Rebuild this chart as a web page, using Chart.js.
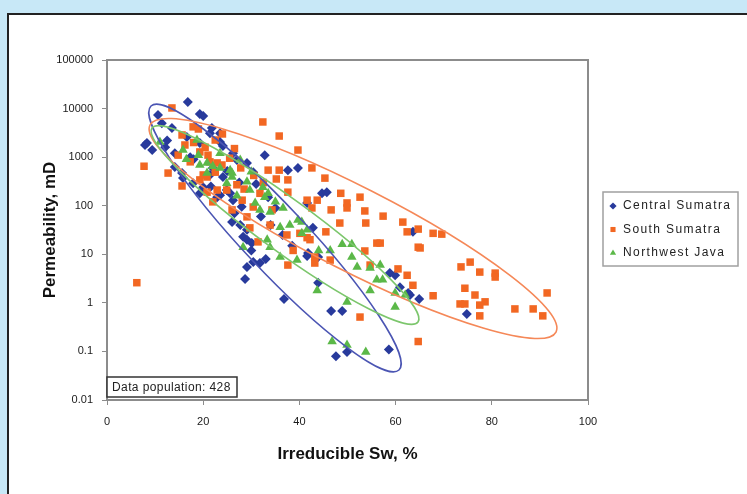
<!DOCTYPE html>
<html>
<head>
<meta charset="utf-8">
<title>Permeability vs irreducible Sw</title>
<script src="https://cdn.jsdelivr.net/npm/chart.js@4"></script>
<style>
  html, body { margin: 0; padding: 0; }
  body { width: 747px; height: 494px; background: #c8e8f7; overflow: hidden; position: relative; }
  .panel {
    position: absolute; left: 7px; top: 13px; width: 760px; height: 500px;
    background: #fff; border-top: 2px solid #222; border-left: 2px solid #222;
  }
  #chart { position: absolute; left: 0; top: 0; }
</style>
</head>
<body>
<div class="panel"><canvas id="chart" width="738" height="479"></canvas></div>
<script>
// Irreducible water saturation (%) vs permeability (mD), by basin

const seriesNames = ['Central Sumatra', 'South Sumatra', 'Northwest Java'];

const centralSw = [
  16.8, 10.6, 19.3, 20.0, 11.4, 13.5, 8.3, 7.9, 9.4, 12.1, 14.1, 16.6, 21.8, 23.5, 14.1, 15.6,
  17.3, 19.3, 15.8, 17.9, 21.4, 19.3, 22.9, 24.9, 32.8, 37.6, 39.7, 44.7, 23.5, 24.1, 26.2, 27.0,
  29.1, 30.4, 20.0, 21.6, 23.5, 25.6, 26.2, 24.1, 26.0, 27.7, 29.1, 28.3, 29.1, 30.1, 30.4, 31.8,
  29.1, 41.8, 43.9, 45.7, 21.4, 41.6, 42.8, 41.6, 43.9, 58.8, 59.9, 60.9, 63.0, 64.9, 46.6, 48.9,
  58.6, 28.7, 36.8, 47.6, 49.9, 62.6, 74.8, 63.6, 12.5, 18.0, 22.0, 25.0, 27.5, 31.0, 33.5, 35.0,
  28.0, 32.0, 26.5, 34.0, 36.5, 38.5, 30.0, 33.0
];
const centralPerm = [
  13600, 7400, 7700, 7000, 5000, 4000, 1950, 1780, 1400, 1600, 1200, 2600, 4000, 2050, 630, 470,
  1000, 1950, 370, 290, 430, 180, 150, 210, 1100, 540, 600, 180, 3100, 1700, 1200, 870,
  760, 490, 240, 250, 165, 180, 130, 390, 46, 40, 32, 23, 20, 17, 6.9, 6.6,
  5.5, 10.6, 8.8, 190, 3100, 114, 35, 9.2, 2.6, 4.1, 3.7, 2.1, 1.45, 1.2, 0.68, 0.68,
  0.11, 3.1, 1.2, 0.08, 0.097, 1.6, 0.59, 29, 2200, 900, 600, 520, 300, 280, 150, 90,
  95, 60, 70, 40, 25, 15, 12, 8
];

const southSw = [
  6.2, 7.7, 12.7, 15.6, 13.5, 17.9, 19.0, 15.6, 16.2, 14.8, 19.3, 22.5, 17.3, 21.4, 20.8, 19.3,
  23.9, 22.9, 20.8, 32.4, 35.8, 39.7, 33.5, 35.8, 37.6, 42.6, 45.3, 37.6, 41.6, 43.7, 42.6, 31.8,
  30.4, 29.1, 34.3, 33.9, 37.4, 40.1, 41.6, 38.7, 37.6, 43.2, 20.4, 21.0, 22.9, 22.5, 20.0, 24.9,
  27.0, 22.0, 28.1, 26.0, 29.7, 31.4, 48.6, 52.6, 49.9, 49.9, 46.6, 53.6, 57.4, 61.5, 48.4, 53.8,
  62.4, 64.7, 45.5, 56.1, 56.8, 64.7, 53.6, 42.2, 43.2, 46.4, 54.7, 60.5, 62.4, 63.6, 52.6, 64.7,
  35.2, 67.8, 69.6, 65.1, 73.6, 75.5, 77.5, 80.7, 80.7, 74.4, 67.8, 76.5, 73.4, 74.4, 77.5, 78.6,
  77.5, 84.8, 88.6, 90.6, 91.5, 25.5, 27.8, 30.5, 26.5, 24.0, 28.5, 32.5, 18.0
];
const southPerm = [
  2.6, 650, 470, 255, 10300, 4200, 3800, 2860, 1780, 1100, 1280, 2250, 800, 800, 390, 340,
  690, 210, 190, 5300, 2720, 1400, 540, 540, 340, 600, 370, 190, 130, 130, 90, 180,
  94, 59, 82, 40, 25, 27, 22, 12, 6, 6.6, 1600, 1100, 760, 490, 430, 210,
  270, 120, 130, 82, 35, 18, 180, 150, 114, 90, 82, 78, 61, 46, 44, 44,
  29, 33, 29, 17, 17, 14, 11.7, 20, 8.8, 7.6, 6, 5, 3.7, 2.3, 0.51, 0.16,
  355, 27, 26, 13.5, 5.5, 6.9, 4.3, 4.1, 3.4, 2.0, 1.4, 1.45, 0.95, 0.95, 0.9, 1.05,
  0.54, 0.75, 0.75, 0.54, 1.6, 950, 600, 420, 1500, 3000, 220, 300, 2000
];

const javaSw = [
  18.7, 11.0, 20.8, 19.3, 23.5, 22.0, 24.9, 20.8, 26.0, 29.1, 32.4, 33.5, 31.8, 33.9, 36.6, 36.0,
  39.7, 40.5, 33.3, 28.3, 33.9, 39.5, 36.0, 32.8, 29.7, 23.5, 40.5, 41.6, 48.9, 50.9, 46.4, 50.9,
  52.0, 54.7, 56.8, 56.1, 57.3, 54.7, 59.9, 62.0, 43.7, 49.9, 59.9, 46.8, 49.9, 53.8, 15.8, 26.0,
  25.6, 27.7, 30.8, 16.5, 19.0, 27.0, 30.0, 35.0, 38.0, 44.0
];
const javaPerm = [
  2250, 2050, 470, 690, 1200, 650, 290, 760, 470, 310, 240, 180, 82, 74, 90, 36,
  51, 27, 20, 14, 14, 7.6, 8.8, 150, 210, 600, 46, 32, 16, 16, 12, 8.8,
  5.5, 5.2, 6, 3.0, 3.0, 1.8, 1.6, 1.45, 1.8, 1.04, 0.82, 0.16, 0.135, 0.097, 1400, 390,
  540, 870, 114, 900, 1100, 160, 500, 120, 40, 12
];

// Envelope ellipses: both ends of the long axis, then one end of the short axis
const centralEnvelope = [[9.15, 11300], [60.7, 0.0414], [30.1, 7.7]];
const southEnvelope = [[8.94, 4590], [93.35, 0.251], [47.2, 5.8]];
const javaEnvelope = [[9.36, 3980], [64.66, 0.404], [33.8, 14.8]];

const swTicks = [0, 20, 40, 60, 80, 100];
const permTicks = [0.01, 0.1, 1, 10, 100, 1000, 10000, 100000];
const populationNote = 'Data population: 428';

const colors = {
  central: '#283a9c',
  south: '#f26722',
  java: '#5bb848',
  centralLine: '#4b55b3',
  southLine: '#f58858',
  javaLine: '#7cc66c',
  frame: '#8c8c8c',
};

const FONT = 'Arial, "Liberation Sans", sans-serif';

function toPoints(xs, ys) {
  return xs.map((x, i) => ({ x, y: ys[i] }));
}

// Draw each envelope as a true ellipse in pixel space (log y is linear there)
const envelopePlugin = {
  id: 'envelopes',
  afterDatasetsDraw(chart) {
    const { ctx, chartArea, scales: { x, y } } = chart;
    const items = [
      [centralEnvelope, colors.centralLine],
      [southEnvelope, colors.southLine],
      [javaEnvelope, colors.javaLine],
    ];
    ctx.save();
    ctx.beginPath();
    ctx.rect(chartArea.left, chartArea.top, chartArea.width, chartArea.height);
    ctx.clip();
    for (const [pts, color] of items) {
      const p = pts.map(([vx, vy]) => [x.getPixelForValue(vx), y.getPixelForValue(vy)]);
      const cx = (p[0][0] + p[1][0]) / 2;
      const cy = (p[0][1] + p[1][1]) / 2;
      const a = Math.hypot(p[1][0] - p[0][0], p[1][1] - p[0][1]) / 2;
      const b = Math.hypot(p[2][0] - cx, p[2][1] - cy);
      const ang = Math.atan2(p[1][1] - p[0][1], p[1][0] - p[0][0]);
      ctx.beginPath();
      ctx.ellipse(cx, cy, a, b, ang, 0, Math.PI * 2);
      ctx.strokeStyle = color;
      ctx.lineWidth = 1.6;
      ctx.stroke();
    }
    ctx.restore();
  },
};

// Plot frame (top/right), population note and the boxed legend
const decorPlugin = {
  id: 'decor',
  afterDraw(chart) {
    const { ctx, chartArea: ca } = chart;
    ctx.save();
    ctx.strokeStyle = colors.frame;
    ctx.lineWidth = 2;
    ctx.beginPath();
    ctx.moveTo(ca.left, ca.top);
    ctx.lineTo(ca.right, ca.top);
    ctx.lineTo(ca.right, ca.bottom);
    ctx.stroke();

    // population note, bottom-left of the plot
    ctx.fillStyle = '#fff';
    ctx.fillRect(ca.left, ca.bottom - 23, 130, 20);
    ctx.strokeStyle = '#333';
    ctx.lineWidth = 1.5;
    ctx.strokeRect(ca.left, ca.bottom - 23, 130, 20);
    ctx.fillStyle = '#222';
    ctx.font = '12px ' + FONT;
    ctx.letterSpacing = '0.4px';
    ctx.textBaseline = 'middle';
    ctx.fillText(populationNote, ca.left + 5, ca.bottom - 12.5);

    // legend
    const lx = ca.right + 15;
    const ly = (ca.top + ca.bottom) / 2 - 38;
    ctx.strokeStyle = '#a0a0a0';
    ctx.lineWidth = 1.5;
    ctx.strokeRect(lx, ly, 135, 74);
    ctx.letterSpacing = '1.4px';
    chart.data.datasets.slice(0, 3).forEach((ds, i) => {
      const rowY = ly + 14 + i * 23.5;
      ctx.fillStyle = ds.backgroundColor;
      Chart.helpers.drawPoint(ctx, {
        pointStyle: ds.pointStyle, radius: 3.6, rotation: 0, borderWidth: 0,
      }, lx + 10, rowY);
      ctx.fillStyle = '#222';
      ctx.font = '12px ' + FONT;
      ctx.fillText(ds.label, lx + 20, rowY);
    });
    ctx.restore();
  },
};

const tickFont = { family: FONT, size: 11 };
const titleFont = { family: FONT, size: 17, weight: 'bold' };

new Chart(document.getElementById('chart'), {
  type: 'scatter',
  data: {
    datasets: [
      {
        label: seriesNames[0], data: toPoints(centralSw, centralPerm), order: 3,
        pointStyle: 'rectRot', pointRadius: 5, borderWidth: 0,
        backgroundColor: colors.central, borderColor: colors.central,
      },
      {
        label: seriesNames[1], data: toPoints(southSw, southPerm), order: 2,
        pointStyle: 'rect', pointRadius: 5.3, borderWidth: 0,
        backgroundColor: colors.south, borderColor: colors.south,
      },
      {
        label: seriesNames[2], data: toPoints(javaSw, javaPerm), order: 1,
        pointStyle: 'triangle', pointRadius: 5.5, borderWidth: 0,
        backgroundColor: colors.java, borderColor: colors.java,
      },
    ],
  },
  options: {
    responsive: false,
    animation: false,
    layout: { padding: { left: 0, top: 45, right: 159, bottom: 24 } },
    plugins: { legend: { display: false }, tooltip: { enabled: false } },
    scales: {
      x: {
        type: 'linear', min: 0, max: 100,
        afterBuildTicks: s => { s.ticks = swTicks.map(v => ({ value: v })); },
        afterFit: s => { s.height = 70; },
        ticks: { padding: 10, color: '#1a1a1a', font: tickFont },
        grid: { drawOnChartArea: false, tickLength: 5, color: colors.frame },
        border: { color: colors.frame, width: 2 },
        title: {
          display: true, text: 'Irreducible Sw, %', color: '#111',
          font: titleFont, padding: { top: 0, bottom: 5 },
        },
      },
      y: {
        type: 'logarithmic', min: 0.01, max: 100000,
        afterBuildTicks: s => { s.ticks = permTicks.map(v => ({ value: v })); },
        afterFit: s => { s.width = 98; },
        ticks: { padding: 9, color: '#1a1a1a', font: tickFont, callback: v => String(v) },
        grid: { drawOnChartArea: false, tickLength: 5, color: colors.frame },
        border: { color: colors.frame, width: 2 },
        title: {
          display: true, text: 'Permeability, mD', color: '#111',
          font: titleFont, padding: { top: 31, bottom: 0 },
        },
      },
    },
  },
  plugins: [envelopePlugin, decorPlugin],
});
</script>
</body>
</html>
